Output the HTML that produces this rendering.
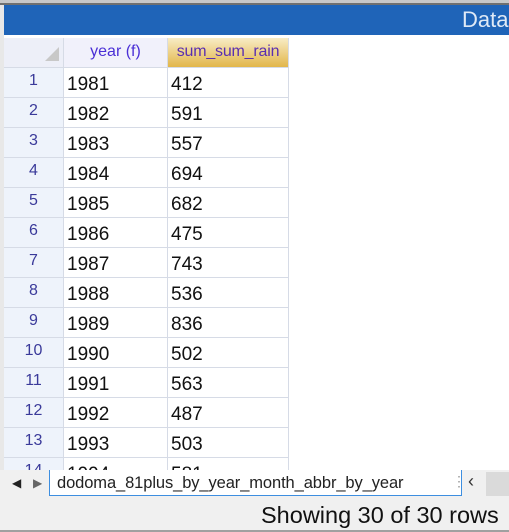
<!DOCTYPE html>
<html><head><meta charset="utf-8"><style>
*{margin:0;padding:0;box-sizing:border-box}
body{width:509px;height:532px;overflow:hidden;background:#fff;font-family:"Liberation Sans",sans-serif;position:relative}
.abs{position:absolute}
.row{position:absolute;left:4px;height:30px;width:285px;overflow:hidden}
.num{position:absolute;left:0;width:60px;height:30px;background:#eef3fb;border-right:1px solid #d6dbe6;border-bottom:1px solid #d6dbe6;color:#3a3a9a;font-size:16px;text-align:center;line-height:26px}
.c1{position:absolute;left:60px;width:104px;height:30px;border-right:1px solid #d6dbe6;border-bottom:1px solid #d6dbe6;font-size:19px;line-height:34px;padding-left:3px;color:#111}
.c2{position:absolute;left:164px;width:121px;height:30px;border-right:1px solid #d6dbe6;border-bottom:1px solid #d6dbe6;font-size:19px;line-height:34px;padding-left:3px;color:#111}
</style></head><body>
<div class="abs" style="left:0;top:0;width:509px;height:3px;background:#c8c8c8"></div>
<div class="abs" style="left:0;top:3px;width:509px;height:2px;background:#707070"></div>
<div class="abs" style="left:4px;top:5px;width:505px;height:30px;background:#1f64b8"></div>
<div class="abs" style="left:462px;top:7px;color:#dfe9f6;font-size:22px;line-height:26px">Data</div>
<div class="abs" style="left:0;top:5px;width:4px;height:467px;background:#e8e8e8"></div>
<div class="abs" style="left:4px;top:38px;width:285px;height:30px">
  <div class="abs" style="left:0;top:0;width:60px;height:30px;background:#edeff8;border-right:1px solid #d6dbe6;border-bottom:1px solid #d6dbe6">
    <div class="abs" style="right:4px;bottom:6px;width:0;height:0;border-left:14px solid transparent;border-bottom:14px solid #c8c8c8"></div>
  </div>
  <div class="abs" style="left:60px;top:0;width:104px;height:30px;background:#f1f1fb;border-right:1px solid #d6dbe6;border-bottom:1px solid #d6dbe6;color:#4a2fd6;font-size:16px;text-align:center;line-height:28px">year (f)</div>
  <div class="abs" style="left:164px;top:0;width:121px;height:30px;background:linear-gradient(#f8ecc6,#e2b64a);border-right:1px solid #d6dbe6;border-bottom:1px solid #d6dbe6;color:#5a2fb0;font-size:16px;text-align:center;line-height:28px;letter-spacing:-0.2px">sum_sum_rain</div>
</div>
<div id="rows"></div>
<div class="abs" style="left:0;top:470px;width:509px;height:28px;background:#f0f0f0"></div>
<div class="abs" style="left:12px;top:476px;font-size:12px;color:#222">◀</div>
<div class="abs" style="left:33px;top:476px;font-size:12px;color:#666">▶</div>
<div class="abs" style="left:49px;top:470px;width:413px;height:26px;background:#fff;border:1px solid #3d8ee0;border-top:none;font-size:16.5px;color:#222;padding-left:7px;line-height:26px;letter-spacing:-0.1px">dodoma_81plus_by_year_month_abbr_by_year</div>
<div class="abs" style="left:452px;top:473px;font-size:14px;color:#999">⋮</div>
<div class="abs" style="left:468px;top:471px;font-size:18px;color:#333">‹</div>
<div class="abs" style="left:486px;top:472px;width:23px;height:24px;background:#dadada"></div>
<div class="abs" style="left:0;top:498px;width:509px;height:32px;background:#f0f0f0"></div>
<div class="abs" style="left:261px;top:502px;font-size:23.5px;color:#111">Showing 30 of 30 rows</div>
<div class="abs" style="left:0;top:530px;width:509px;height:2px;background:#a0a0a0"></div>
<script>
const years=[1981,1982,1983,1984,1985,1986,1987,1988,1989,1990,1991,1992,1993,1994];
const rains=[412,591,557,694,682,475,743,536,836,502,563,487,503,581];
const host=document.getElementById('rows');
years.forEach((y,i)=>{
  const r=document.createElement('div');
  r.className='row';
  r.style.top=(68+i*30)+'px';
  if(i===13){r.style.height='12px';}
  
  
  r.innerHTML='<div class="num">'+(i+1)+'</div><div class="c1">'+y+'</div><div class="c2">'+rains[i]+'</div>';
  host.appendChild(r);
});
</script>
</body></html>
